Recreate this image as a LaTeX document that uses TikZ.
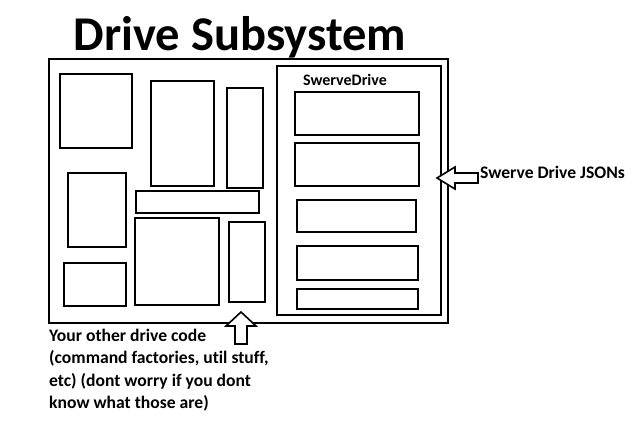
\documentclass[tikz,border=0pt]{standalone}
\usepackage{fontspec}
\setmainfont{Carlito}[Ligatures=NoCommon]
\begin{document}
\begin{tikzpicture}[x=1pt,y=-1pt,
  box/.style={draw,line width=1.6pt},
  lbl/.style={font=\bfseries\fontsize{17.6}{22.3}\selectfont,inner sep=0pt},
  harrow/.style={draw,line width=1.6pt,fill=white}]
\useasboundingbox (0,0) rectangle (642,432);
\node[font=\bfseries\fontsize{48.5}{52}\selectfont,inner sep=0pt] (title) at (240,37) {Drive Subsystem};
\draw[box] (49,59) rectangle (448,323);
\draw[box] (60,74) rectangle (132,148);
\draw[box] (151,81) rectangle (214,186);
\draw[box] (227,88) rectangle (263,188);
\draw[box] (68,173) rectangle (126,247);
\draw[box] (136,191) rectangle (259,213);
\draw[box] (135,218) rectangle (219,305);
\draw[box] (229,222) rectangle (265,302);
\draw[box] (64,263) rectangle (126,306);
\draw[box] (277,66) rectangle (441,315);
\node[font=\bfseries\fontsize{16}{18}\selectfont,inner sep=0pt] (sd) at (345,80) {SwerveDrive};
\draw[box] (295,92) rectangle (419,135);
\draw[box] (295,143) rectangle (419,186);
\draw[box] (297,200) rectangle (416,232);
\draw[box] (297,246) rectangle (418,280);
\draw[box] (297,289) rectangle (418,309);
\draw[harrow] (437,178) -- (455,167) -- (455,173) -- (478,173) -- (478,183) -- (455,183) -- (455,189) -- cycle;
\node[lbl,anchor=west] (json) at (480,172) {Swerve Drive JSONs};
\draw[harrow] (241,312) -- (256,326) -- (247,326) -- (247,344) -- (235,344) -- (235,326) -- (226,326) -- cycle;
\node[lbl,anchor=north west,align=left] (other) at (49,329) {Your other drive code\\(command factories, util stuff,\\etc) (dont worry if you dont\\know what those are)};
\end{tikzpicture}
\end{document}
